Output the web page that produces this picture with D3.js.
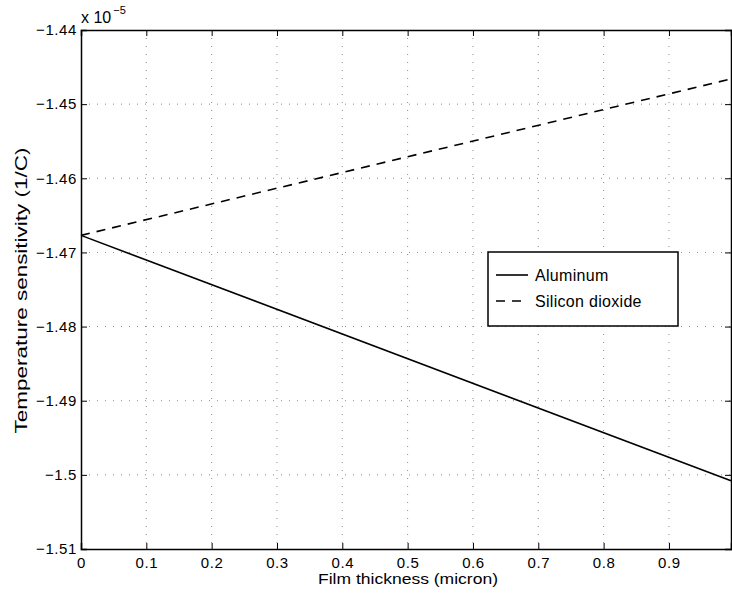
<!DOCTYPE html>
<html>
<head>
<meta charset="utf-8">
<script src="https://cdn.jsdelivr.net/npm/d3@7"></script>
<style>
  html, body { margin: 0; padding: 0; background: #fff; }
  svg { display: block; }
  text { font-family: "Liberation Sans", Arial, Helvetica, sans-serif; fill: #000; }
</style>
</head>
<body>
<svg id="chart" width="732" height="594"></svg>
<script>
// Data (values in units of 1e-5 1/C)
const thickness = [0, 0.995];
const aluminum = [-1.4677, -1.5008];
const siliconDioxide = [-1.4677, -1.4466];
const seriesNames = ["Aluminum", "Silicon dioxide"];
const xTicks = [0, 0.1, 0.2, 0.3, 0.4, 0.5, 0.6, 0.7, 0.8, 0.9];
const yTicks = [-1.44, -1.45, -1.46, -1.47, -1.48, -1.49, -1.5, -1.51];
const xLabel = "Film thickness (micron)";
const yLabel = "Temperature sensitivity (1/C)";

const svg = d3.select("#chart");
const L = 81, R = 731, T = 30, B = 549;

const x = d3.scaleLinear().domain([0, 0.995]).range([L, R]);
const y = d3.scaleLinear().domain([-1.51, -1.44]).range([B, T]);

// grid
const grid = svg.append("g").attr("stroke", "#8a8a8a").attr("stroke-width", 1).attr("stroke-dasharray", "1,7");
xTicks.filter(d => d > 0).forEach(d => {
  grid.append("line").attr("x1", x(d)).attr("x2", x(d)).attr("y1", T).attr("y2", B);
});
yTicks.filter(d => d > -1.51 && d < -1.44).forEach(d => {
  grid.append("line").attr("x1", L).attr("x2", R).attr("y1", y(d)).attr("y2", y(d));
});

// axes
const fmtY = d => d3.format(".2~f")(d).replace("-", "\u2212");
const fmtX = d => d === 0 ? "0" : d3.format(".1f")(d);

const ax = svg.append("g").attr("transform", `translate(0,${B})`)
  .call(d3.axisBottom(x).tickValues(xTicks).tickSize(-6).tickPadding(8).tickFormat(fmtX));
const axTop = svg.append("g").attr("transform", `translate(0,${T})`)
  .call(d3.axisTop(x).tickValues(xTicks).tickSize(-6).tickFormat(""));
const ay = svg.append("g").attr("transform", `translate(${L},0)`)
  .call(d3.axisLeft(y).tickValues(yTicks).tickSize(-6).tickPadding(4).tickFormat(fmtY));
const ayR = svg.append("g").attr("transform", `translate(${R},0)`)
  .call(d3.axisRight(y).tickValues(yTicks).tickSize(-6).tickFormat(""));

[ax, axTop, ay, ayR].forEach(g => {
  g.select(".domain").attr("stroke", "#000").attr("stroke-width", 1.5);
  g.selectAll(".tick line").attr("stroke", "#000").attr("stroke-width", 1);
  g.selectAll("text").style("font-size", "15px").style("letter-spacing", "0.6px").attr("fill", "#000")
    .style("font-family", '"Liberation Sans", Arial, sans-serif');
});

// multiplier
const mult = svg.append("text").attr("x", L).attr("y", 23).style("font-size", "16px");
mult.append("tspan").text("x 10");
mult.append("tspan").attr("dy", -9).attr("dx", 2).style("font-size", "11px").text("\u22125");

// lines
const line = d3.line().x((d, i) => x(thickness[i])).y(d => y(d));
svg.append("path").datum(aluminum).attr("d", line)
  .attr("fill", "none").attr("stroke", "#000").attr("stroke-width", 1.6);
svg.append("path").datum(siliconDioxide).attr("d", line)
  .attr("fill", "none").attr("stroke", "#000").attr("stroke-width", 1.6)
  .attr("stroke-dasharray", "9,7");

// axis labels
svg.append("text").attr("x", (L + R) / 2 + 2).attr("y", 584).attr("text-anchor", "middle")
  .style("font-size", "14px").attr("textLength", 180).attr("lengthAdjust", "spacingAndGlyphs").text(xLabel);
svg.append("text").attr("transform", `translate(27,${(T + B) / 2 + 1}) rotate(-90)`)
  .attr("text-anchor", "middle").style("font-size", "16px")
  .attr("textLength", 286).attr("lengthAdjust", "spacingAndGlyphs").text(yLabel);

// legend
const lg = svg.append("g");
lg.append("rect").attr("x", 488).attr("y", 252).attr("width", 190).attr("height", 74)
  .attr("fill", "#fff").attr("stroke", "#000").attr("stroke-width", 1.5);
const styles = [null, "9,7"];
seriesNames.forEach((name, i) => {
  const cy = 275 + i * 26;
  lg.append("line").attr("x1", 496).attr("x2", 528).attr("y1", cy).attr("y2", cy)
    .attr("stroke", "#000").attr("stroke-width", 1.6)
    .attr("stroke-dasharray", styles[i]);
  lg.append("text").attr("x", 535).attr("y", cy + 6).style("font-size", "16px")
    .style("letter-spacing", "0.3px").text(name);
});
</script>
</body>
</html>
